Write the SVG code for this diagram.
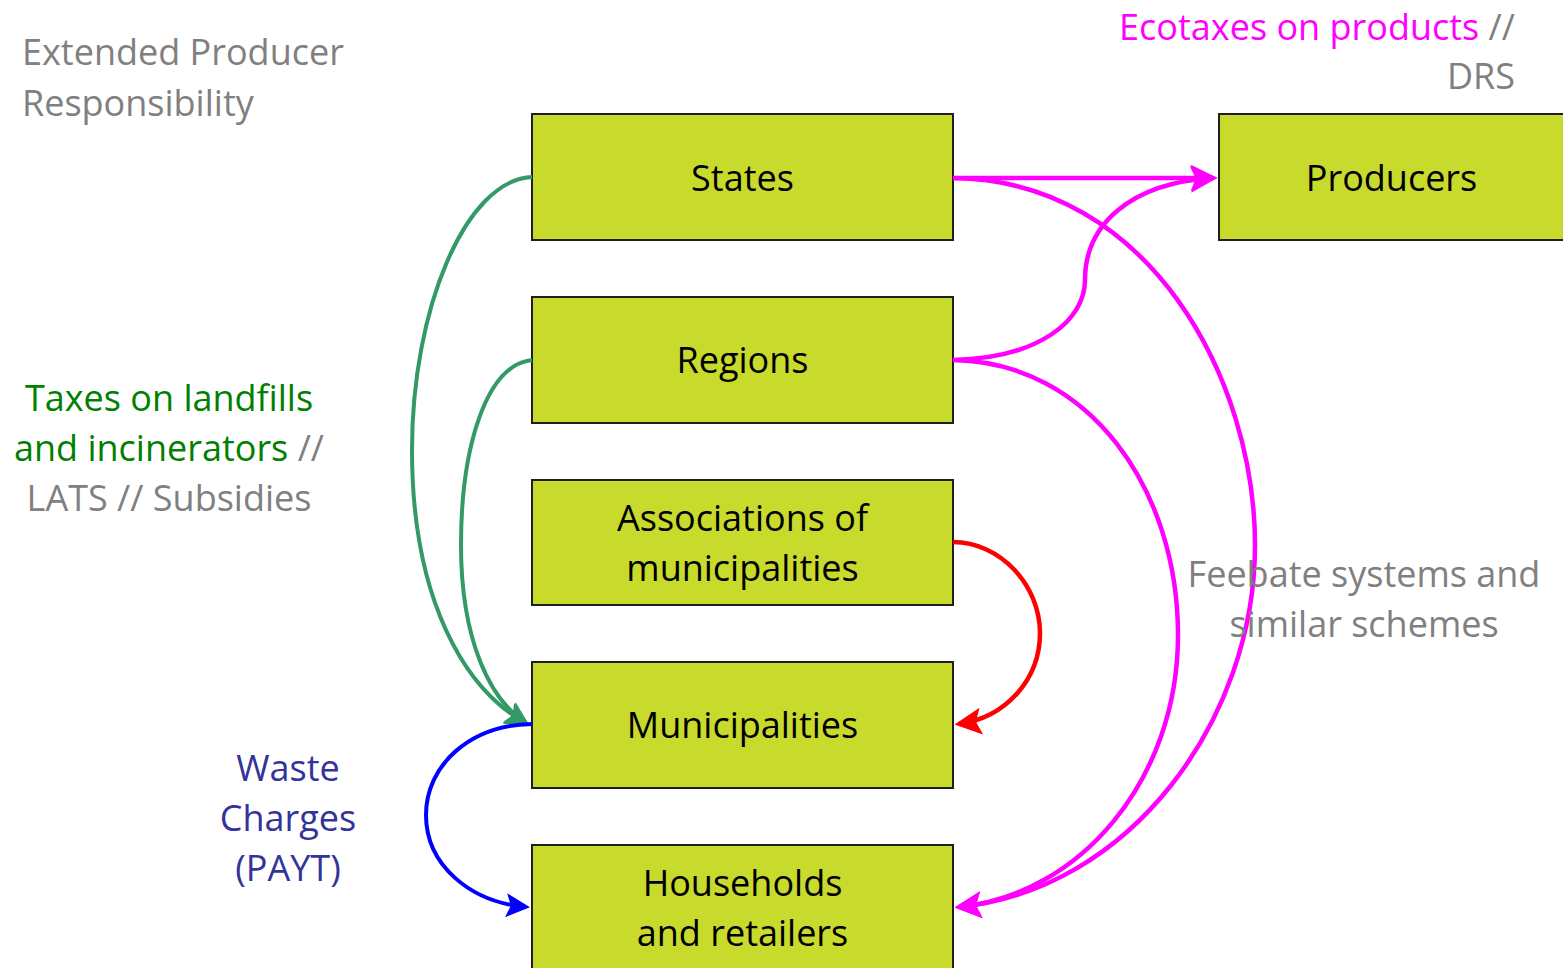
<svg xmlns="http://www.w3.org/2000/svg" width="1563" height="968" viewBox="0 0 1563 968">
<style>
.box{fill:#C8DA2B;stroke:#1f1f1f;stroke-width:2}
.t{font-family:"Open Sans","Liberation Sans",sans-serif;font-size:36px}
.lbl{fill:#000;text-anchor:middle}
.gray{fill:#808080}
.c{fill:none;stroke-width:4}
.thick{stroke-width:4.5}
</style>
<defs>
<marker id="am" markerWidth="6" markerHeight="6" refX="5" refY="3" orient="auto" markerUnits="strokeWidth"><path d="M0,0 L6,3 L0,6 L1.2,3 Z" fill="#FF00FF"/></marker>
<marker id="ar" markerWidth="6" markerHeight="6" refX="5" refY="3" orient="auto" markerUnits="strokeWidth"><path d="M0,0 L6,3 L0,6 L1.2,3 Z" fill="#FF0000"/></marker>
<marker id="ab" markerWidth="6" markerHeight="6" refX="5" refY="3" orient="auto" markerUnits="strokeWidth"><path d="M0,0 L6,3 L0,6 L1.2,3 Z" fill="#0000FF"/></marker>
<marker id="ag" markerWidth="6" markerHeight="6" refX="5" refY="3" orient="auto" markerUnits="strokeWidth"><path d="M0,0 L6,3 L0,6 L1.2,3 Z" fill="#339966"/></marker>
</defs>
<rect width="1563" height="968" fill="#fff"/>

<g id="nodes">
<g id="states"><rect class="box" x="532" y="114" width="421" height="126"/><text class="t lbl" x="742.5" y="191">States</text></g>
<g id="producers"><rect class="box" x="1219" y="114" width="400" height="126"/><text class="t lbl" x="1391.5" y="191">Producers</text></g>
<g id="regions"><rect class="box" x="532" y="297" width="421" height="126"/><text class="t lbl" x="742.5" y="373">Regions</text></g>
<g id="associations"><rect class="box" x="532" y="480" width="421" height="125"/><text class="t lbl" x="742.5" y="531">Associations of</text><text class="t lbl" x="742.5" y="581">municipalities</text></g>
<g id="municipalities"><rect class="box" x="532" y="662" width="421" height="126"/><text class="t lbl" x="742.5" y="738">Municipalities</text></g>
<g id="households"><rect class="box" x="532" y="845" width="421" height="140"/><text class="t lbl" x="742.5" y="896">Households</text><text class="t lbl" x="742.5" y="946">and retailers</text></g>
</g>

<g id="connectors">
<path class="c thick" stroke="#FF00FF" d="M953,178 L1213,178" marker-end="url(#am)"/>
<path class="c thick" stroke="#FF00FF" d="M953,360 C1040,358 1085,320 1085,280 C1085,225 1130,183 1213,178" marker-end="url(#am)"/>
<path class="c thick" stroke="#FF00FF" d="M953,178 C1150,180 1255,380 1255,545 C1255,720 1130,890 959,907" marker-end="url(#am)"/>
<path class="c thick" stroke="#FF00FF" d="M953,360 C1090,362 1178,490 1178,635 C1178,780 1080,895 959,907" marker-end="url(#am)"/>
<path class="c thick" stroke="#FF0000" d="M953,542 C1000,542 1040,585 1040,633 C1040,680 1005,718 959,724" marker-end="url(#ar)"/>
<path class="c" stroke="#339966" d="M532,177 C465,180 412,310 412,450 C412,600 465,690 526,723" marker-end="url(#ag)"/>
<path class="c" stroke="#339966" d="M532,360 C485,365 461,450 461,545 C461,640 490,700 526,723" marker-end="url(#ag)"/>
<path class="c" stroke="#0000FF" d="M532,724 C470,725 426,765 426,815 C426,865 470,902 526,907" marker-end="url(#ab)"/>
</g>

<g id="labels">
<text class="t gray" x="22" y="65">Extended Producer</text>
<text class="t gray" x="22" y="116">Responsibility</text>
<text class="t" x="1515" y="40" text-anchor="end"><tspan fill="#FF00FF">Ecotaxes on products</tspan><tspan fill="#808080"> //</tspan></text>
<text class="t gray" x="1515" y="89" text-anchor="end">DRS</text>
<text class="t" x="169" y="411" text-anchor="middle" fill="#008000">Taxes on landfills</text>
<text class="t" x="169" y="461" text-anchor="middle"><tspan fill="#008000">and incinerators</tspan><tspan fill="#808080"> //</tspan></text>
<text class="t gray" x="169" y="511" text-anchor="middle">LATS // Subsidies</text>
<text class="t" x="288" y="781" text-anchor="middle" fill="#333399">Waste</text>
<text class="t" x="288" y="831" text-anchor="middle" fill="#333399">Charges</text>
<text class="t" x="288" y="881" text-anchor="middle" fill="#333399">(PAYT)</text>
<text class="t gray" x="1364" y="587" text-anchor="middle">Feebate systems and</text>
<text class="t gray" x="1364" y="637" text-anchor="middle">similar schemes</text>
</g>
</svg>
